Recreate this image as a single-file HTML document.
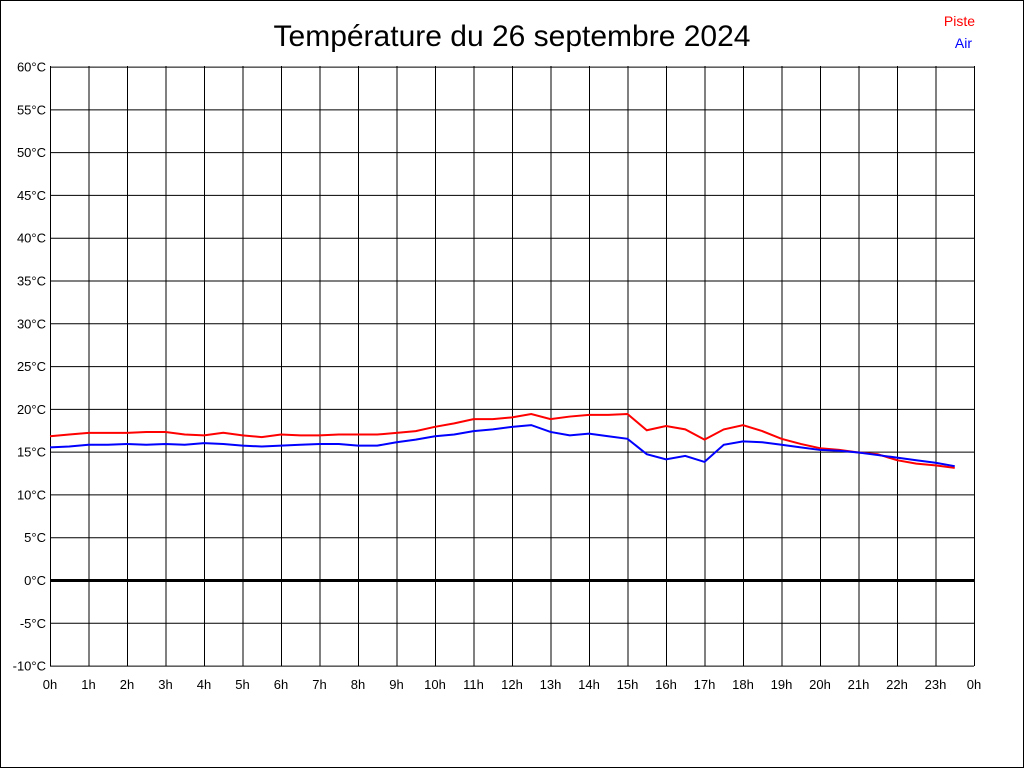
<!DOCTYPE html>
<html><head><meta charset="utf-8"><style>
body{margin:0;background:#fff}
svg{display:block;font-family:"Liberation Sans",sans-serif}
</style></head><body>
<svg id="c" width="1024" height="768">
<rect x="0.5" y="0.5" width="1023" height="767" fill="#fff" stroke="#000"/>
<text x="512" y="46" font-size="30" text-anchor="middle">Température du 26 septembre 2024</text>
<text x="975" y="26" font-size="14" fill="#f00" text-anchor="end">Piste</text>
<text x="972" y="48" font-size="14" fill="#00f" text-anchor="end">Air</text>
<g id="grid"></g><g id="series"></g>
</svg>
<script>
const hours=[0,0.5,1,1.5,2,2.5,3,3.5,4,4.5,5,5.5,6,6.5,7,7.5,8,8.5,9,9.5,10,10.5,11,11.5,12,12.5,13,13.5,14,14.5,15,15.5,16,16.5,17,17.5,18,18.5,19,19.5,20,20.5,21,21.5,22,22.5,23,23.5];
const piste=[16.8,17.0,17.2,17.2,17.2,17.3,17.3,17.0,16.9,17.2,16.9,16.7,17.0,16.9,16.9,17.0,17.0,17.0,17.2,17.4,17.9,18.3,18.8,18.8,19.0,19.4,18.8,19.1,19.3,19.3,19.4,17.5,18.0,17.6,16.4,17.6,18.1,17.4,16.5,15.9,15.4,15.2,14.9,14.7,14.0,13.6,13.4,13.1];
const air=[15.5,15.6,15.8,15.8,15.9,15.8,15.9,15.8,16.0,15.9,15.7,15.6,15.7,15.8,15.9,15.9,15.7,15.7,16.1,16.4,16.8,17.0,17.4,17.6,17.9,18.1,17.3,16.9,17.1,16.8,16.5,14.7,14.1,14.5,13.8,15.8,16.2,16.1,15.8,15.5,15.2,15.1,14.9,14.6,14.3,14.0,13.7,13.3];
const yTicks=[60,55,50,45,40,35,30,25,20,15,10,5,0,-5,-10];
const xTicks=[0,1,2,3,4,5,6,7,8,9,10,11,12,13,14,15,16,17,18,19,20,21,22,23,24];
const NS="http://www.w3.org/2000/svg";
const X=h=>50+h*(924/24), Y=t=>580-(t)*(599/70);
const g=document.getElementById('grid'), s=document.getElementById('series');
function mk(tag,at,p){const e=document.createElementNS(NS,tag);for(const k in at)e.setAttribute(k,at[k]);p.appendChild(e);return e;}
yTicks.forEach(t=>{
 const l=mk('line',{x1:50,x2:974,y1:Y(t)+0.5,y2:Y(t)+0.5,stroke:'#000','stroke-width':t===0?3:1},g);
 
 
 const tx=mk('text',{x:46,y:Y(t)+5,'font-size':13,'text-anchor':'end'},g);
 tx.textContent=t+'°C';
 
 
});
xTicks.forEach(h=>{
 const l=mk('line',{x1:X(h)+0.5,x2:X(h)+0.5,y1:66,y2:666,stroke:'#000','stroke-width':1},g);
 
 
 const tx=mk('text',{x:X(h),y:689,'font-size':13,'text-anchor':'middle'},g);
 tx.textContent=(h%24)+'h';
 
 
});
function line(vals,col,name){
 const p=mk('polyline',{points:vals.map((v,i)=>X(hours[i])+','+Y(v)).join(' '),fill:'none',stroke:col,'stroke-width':2},s);
 
 
}
line(piste,'#f00','piste-line');
line(air,'#00f','air-line');
</script>
</body></html>
